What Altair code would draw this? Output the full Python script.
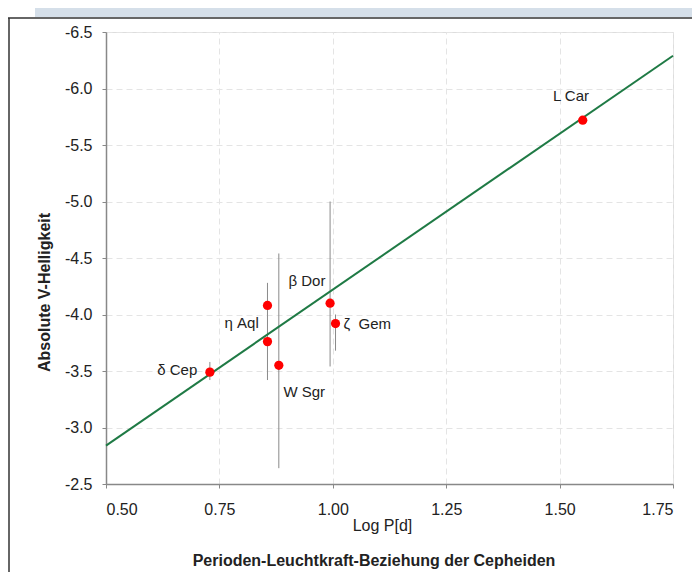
import altair as alt
import pandas as pd

# ---- data ----
star_names = ["δ Cep", "η Aql", "η Aql", "W Sgr", "β Dor", "ζ Gem", "L Car"]
log_p = [0.729, 0.856, 0.856, 0.881, 0.994, 1.006, 1.551]
abs_mag = [-3.49, -4.08, -3.76, -3.55, -4.10, -3.92, -5.72]

bar_names = ["δ Cep", "η Aql", "W Sgr", "β Dor", "ζ Gem"]
bar_x = [0.729, 0.856, 0.881, 0.994, 1.006]
bar_low = [-3.42, -3.42, -2.64, -3.54, -3.68]
bar_high = [-3.58, -4.28, -4.54, -5.00, -4.00]

label_text = ["L Car", "β Dor", "η Aql", "ζ\u00a0\u00a0Gem", "δ Cep", "W Sgr"]
label_x = [1.525, 0.943, 0.799, 1.076, 0.657, 0.937]
label_y = [-5.93, -4.30, -3.925, -3.92, -3.51, -3.31]

fit_x = [0.50, 1.75]
fit_y = [-2.84, -6.29]

x_ticks = [0.50, 0.75, 1.00, 1.25, 1.50, 1.75]
y_ticks = [-6.5, -6.0, -5.5, -5.0, -4.5, -4.0, -3.5, -3.0, -2.5]

chart_title = "Perioden-Leuchtkraft-Beziehung der Cepheiden"

FONT = "Liberation Sans"

points = pd.DataFrame({"star": star_names, "logp": log_p, "mag": abs_mag})
bars = pd.DataFrame({"star": bar_names, "logp": bar_x, "lo": bar_low, "hi": bar_high})
labels = pd.DataFrame({"text": label_text, "logp": label_x, "mag": label_y})
fit = pd.DataFrame({"logp": fit_x, "mag": fit_y})
one = pd.DataFrame({"k": [0]})
title_df = pd.DataFrame({"t": [chart_title]})

xscale = alt.Scale(domain=[0.5, 1.75], nice=False, zero=False)
yscale = alt.Scale(domain=[-6.5, -2.5], reverse=True, nice=False, zero=False)

xaxis = alt.Axis(
    values=x_ticks, format=".2f", title="Log P[d]",
    labelFont=FONT, labelFontSize=16, labelColor="#222", labelPadding=13,
    titleFont=FONT, titleFontSize=16, titleFontWeight="normal", titleColor="#222",
    titlePadding=0, titleX=276,
    tickSize=4, tickColor="#888", domainColor="#888", domainWidth=1.5,
    grid=True, gridColor="#e4e4e4", gridDash=[6, 4],
)
yaxis = alt.Axis(
    values=y_ticks,
    labelExpr="replace(format(datum.value, '.1f'), '\u2212', '-')",
    title="Absolute V-Helligkeit",
    labelFont=FONT, labelFontSize=16, labelColor="#222", labelPadding=10,
    titleFont=FONT, titleFontSize=16, titleFontWeight="bold", titleColor="#222",
    titlePadding=12, titleY=260,
    tickSize=4, tickColor="#888", domainColor="#888", domainWidth=1.5,
    grid=True, gridColor="#e4e4e4", gridDash=[6, 4],
)

base_x = alt.X("logp:Q", scale=xscale, axis=xaxis)
base_y = alt.Y("mag:Q", scale=yscale, axis=yaxis)

band = alt.Chart(one).mark_rect(color="#d5dfe9").encode(
    x=alt.value(-71), x2=alt.value(600), y=alt.value(-24), y2=alt.value(-15)
)
frame_top = alt.Chart(one).mark_rule(color="#333", strokeWidth=1.5).encode(
    x=alt.value(-98), x2=alt.value(600), y=alt.value(-14)
)
frame_left = alt.Chart(one).mark_rule(color="#333", strokeWidth=1.5).encode(
    x=alt.value(-97), y=alt.value(-14), y2=alt.value(560)
)

errbars = alt.Chart(bars).mark_rule(color="#8a8a8a", strokeWidth=1).encode(
    x=base_x, y=alt.Y("lo:Q", scale=yscale, axis=yaxis), y2="hi:Q"
)
line = alt.Chart(fit).mark_line(color="#1f7a45", strokeWidth=2).encode(
    x=base_x, y=base_y
)
dots = alt.Chart(points).mark_circle(color="#ff0000", opacity=1, size=85).encode(
    x=base_x, y=base_y
)
texts = alt.Chart(labels).mark_text(
    font=FONT, fontSize=15, color="#222", align="center", baseline="middle"
).encode(x=base_x, y=base_y, text="text:N")

title_text = alt.Chart(title_df).mark_text(
    font=FONT, fontSize=16, fontWeight="bold", color="#222",
    align="center", baseline="middle"
).encode(x=alt.value(268), y=alt.value(529), text="t:N")

chart = alt.layer(
    band, frame_top, frame_left, errbars, line, dots, texts, title_text
).properties(
    width=567,
    height=452,
    autosize=alt.AutoSizeParams(type="none"),
    padding={"left": 98, "top": 24, "right": 19, "bottom": 88},
).configure_view(stroke="#888", strokeWidth=1.5).configure(background="white")

chart.save("out.html", embed_options={"renderer": "svg", "actions": False})
